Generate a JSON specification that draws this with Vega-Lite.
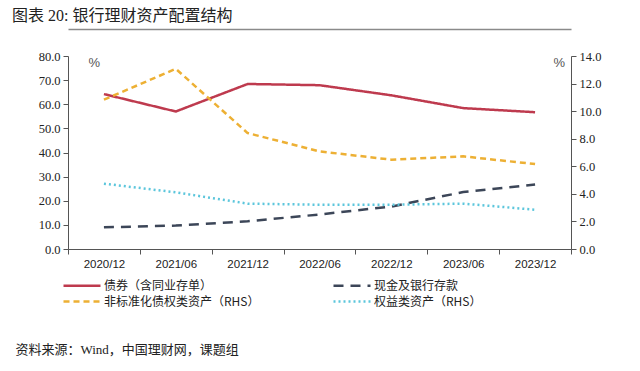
{
  "$schema": "https://vega.github.io/schema/vega-lite/v6.json",
  "width": 503,
  "height": 193,
  "padding": {"left": 12, "top": 8, "right": 5, "bottom": 5},
  "background": "white",
  "title": {
    "text": "图表 20: 银行理财资产配置结构",
    "anchor": "start",
    "frame": "bounds",
    "font": "Liberation Serif, Noto Sans CJK SC",
    "fontSize": 16,
    "fontWeight": "normal",
    "color": "#222222",
    "offset": 5,
    "dx": -3
  },
  "config": {
    "view": {"stroke": null},
    "axis": {"grid": false, "domainColor": "#555555", "tickColor": "#555555", "tickSize": 5, "labelColor": "#222222"}
  },
  "data": {
    "values": [
      {"date": "2020/12", "series": "债券（含同业存单）", "value": 64.2},
      {"date": "2021/06", "series": "债券（含同业存单）", "value": 57.0},
      {"date": "2021/12", "series": "债券（含同业存单）", "value": 68.4},
      {"date": "2022/06", "series": "债券（含同业存单）", "value": 67.9},
      {"date": "2022/12", "series": "债券（含同业存单）", "value": 63.7},
      {"date": "2023/06", "series": "债券（含同业存单）", "value": 58.4},
      {"date": "2023/12", "series": "债券（含同业存单）", "value": 56.7},
      {"date": "2020/12", "series": "现金及银行存款", "value": 9.0},
      {"date": "2021/06", "series": "现金及银行存款", "value": 9.7},
      {"date": "2021/12", "series": "现金及银行存款", "value": 11.5},
      {"date": "2022/06", "series": "现金及银行存款", "value": 14.3},
      {"date": "2022/12", "series": "现金及银行存款", "value": 17.6},
      {"date": "2023/06", "series": "现金及银行存款", "value": 23.6},
      {"date": "2023/12", "series": "现金及银行存款", "value": 26.7},
      {"date": "2020/12", "series": "非标准化债权类资产（RHS）", "value": 10.83},
      {"date": "2021/06", "series": "非标准化债权类资产（RHS）", "value": 13.07},
      {"date": "2021/12", "series": "非标准化债权类资产（RHS）", "value": 8.41},
      {"date": "2022/06", "series": "非标准化债权类资产（RHS）", "value": 7.08},
      {"date": "2022/12", "series": "非标准化债权类资产（RHS）", "value": 6.48},
      {"date": "2023/06", "series": "非标准化债权类资产（RHS）", "value": 6.72},
      {"date": "2023/12", "series": "非标准化债权类资产（RHS）", "value": 6.16},
      {"date": "2020/12", "series": "权益类资产（RHS）", "value": 4.74},
      {"date": "2021/06", "series": "权益类资产（RHS）", "value": 4.11},
      {"date": "2021/12", "series": "权益类资产（RHS）", "value": 3.29},
      {"date": "2022/06", "series": "权益类资产（RHS）", "value": 3.21},
      {"date": "2022/12", "series": "权益类资产（RHS）", "value": 3.21},
      {"date": "2023/06", "series": "权益类资产（RHS）", "value": 3.29},
      {"date": "2023/12", "series": "权益类资产（RHS）", "value": 2.85}
    ]
  },
  "encoding": {
    "x": {
      "field": "date",
      "type": "ordinal",
      "sort": null,
      "bandPosition": 0.5,
      "scale": {"type": "band", "paddingInner": 0, "paddingOuter": 0},
      "axis": {
        "tickBand": "extent",
        "labelAngle": 0,
        "labelFont": "Liberation Sans",
        "labelFontSize": 11.5,
        "labelPadding": 4,
        "title": "资料来源：Wind，中国理财网，课题组",
        "titleFont": "Liberation Serif, Noto Sans CJK SC",
        "titleFontSize": 13,
        "titleFontWeight": "normal",
        "titleColor": "#222222",
        "titleAnchor": "start",
        "titleAlign": "left",
        "titleBaseline": "middle",
        "titleX": -53,
        "titleY": 100
      }
    },
    "color": {
      "field": "series",
      "type": "nominal",
      "scale": {
        "domain": ["债券（含同业存单）", "非标准化债权类资产（RHS）", "现金及银行存款", "权益类资产（RHS）"],
        "range": ["#BE3A4E", "#EDB034", "#3C4658", "#5CC6DC"]
      },
      "legend": {
        "orient": "none",
        "legendX": -11,
        "legendY": 223,
        "columns": 2,
        "columnPadding": 67,
        "rowPadding": 3,
        "title": null,
        "symbolType": "M0,0H7.4",
        "symbolSize": 100,
        "symbolStrokeWidth": 2.5,
        "labelFont": "Noto Sans CJK SC",
        "labelFontSize": 12,
        "labelColor": "#222222",
        "labelOffset": 34,
        "labelLimit": 300
      }
    },
    "strokeDash": {
      "field": "series",
      "type": "nominal",
      "scale": {
        "domain": ["债券（含同业存单）", "非标准化债权类资产（RHS）", "现金及银行存款", "权益类资产（RHS）"],
        "range": [[1, 0], [6, 4], [10, 7], [2, 3]]
      }
    }
  },
  "layer": [
    {
      "transform": [{"filter": {"field": "series", "oneOf": ["债券（含同业存单）", "现金及银行存款"]}}],
      "mark": {"type": "line", "strokeWidth": 2.5},
      "encoding": {
        "y": {
          "field": "value",
          "type": "quantitative",
          "scale": {"domain": [0, 80], "nice": false},
          "axis": {
            "orient": "left",
            "values": [0, 10, 20, 30, 40, 50, 60, 70, 80],
            "format": ".1f",
            "labelFont": "Liberation Serif",
            "labelFontSize": 12.5,
            "labelPadding": 3,
            "title": "%",
            "titleAngle": 0,
            "titleX": 20,
            "titleY": 0,
            "titleAlign": "left",
            "titleBaseline": "top",
            "titleFont": "Liberation Sans",
            "titleFontSize": 13,
            "titleFontWeight": "normal",
            "titleColor": "#555555"
          }
        }
      }
    },
    {
      "transform": [{"filter": {"field": "series", "oneOf": ["非标准化债权类资产（RHS）", "权益类资产（RHS）"]}}],
      "mark": {"type": "line", "strokeWidth": 2.5},
      "encoding": {
        "x": {
          "field": "date",
          "type": "ordinal",
          "sort": null,
          "bandPosition": 0.5,
          "axis": {
            "orient": "top",
            "labels": false,
            "ticks": false,
            "title": null,
            "domainColor": "#8A8A8A",
            "domainWidth": 1.5,
            "offset": 27
          }
        },
        "y": {
          "field": "value",
          "type": "quantitative",
          "scale": {"domain": [0, 14], "nice": false},
          "axis": {
            "orient": "right",
            "values": [0, 2, 4, 6, 8, 10, 12, 14],
            "format": ".1f",
            "labelFont": "Liberation Serif",
            "labelFontSize": 12.5,
            "labelPadding": 3,
            "title": "%",
            "titleAngle": 0,
            "titleX": -18,
            "titleY": 0,
            "titleAlign": "left",
            "titleBaseline": "top",
            "titleFont": "Liberation Sans",
            "titleFontSize": 13,
            "titleFontWeight": "normal",
            "titleColor": "#555555"
          }
        }
      }
    }
  ],
  "resolve": {"scale": {"y": "independent"}, "axis": {"x": "independent"}}
}
